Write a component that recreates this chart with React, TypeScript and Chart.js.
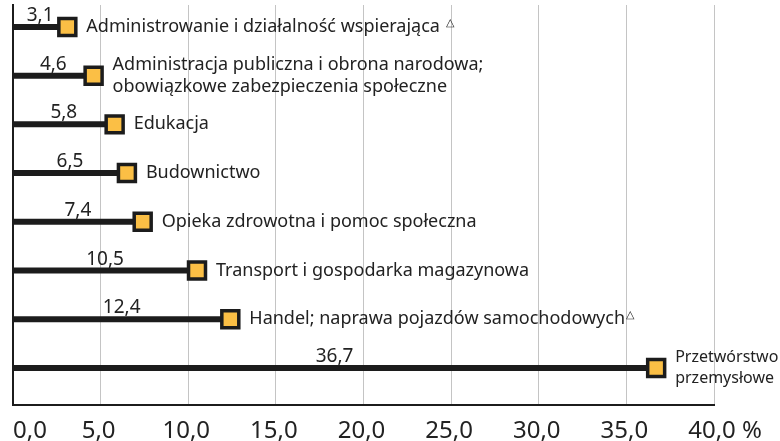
import React, { useEffect, useRef } from 'react';
import { Chart, registerables } from 'chart.js';

Chart.register(...registerables);

const categories: string[][] = [
  ['Administrowanie i działalność wspierająca'],
  ['Administracja publiczna i obrona narodowa;', 'obowiązkowe zabezpieczenia społeczne'],
  ['Edukacja'],
  ['Budownictwo'],
  ['Opieka zdrowotna i pomoc społeczna'],
  ['Transport i gospodarka magazynowa'],
  ['Handel; naprawa pojazdów samochodowych'],
  ['Przetwórstwo', 'przemysłowe'],
];
const footnoteMarks = [' △', '', '', '', '', '', '△', ''];
const values = [3.1, 4.6, 5.8, 6.5, 7.4, 10.5, 12.4, 36.7];
const xTicks = [0, 5, 10, 15, 20, 25, 30, 35, 40];
const xTickLabels = ['0,0', '5,0', '10,0', '15,0', '20,0', '25,0', '30,0', '35,0', '40,0'];
const unitLabel = ' %';

const FONT = '"Noto Sans", sans-serif';
const TEXT = '#222222';
const DARK = '#1c1c1c';
const FILL = '#fbbf45';

const fmt = (v: number) => v.toFixed(1).replace('.', ',');

const labelPlugin = {
  id: 'customLabels',
  afterDatasetsDraw(chart: any) {
    const { ctx, scales } = chart;
    const x = scales.x;
    const y = scales.y;
    ctx.save();
    ctx.fillStyle = TEXT;
    const x0 = x.getPixelForValue(0);
    values.forEach((v, i) => {
      const px = x.getPixelForValue(v);
      const py = y.getPixelForValue(i);
      ctx.font = `19px ${FONT}`;
      ctx.textAlign = 'center';
      ctx.textBaseline = 'alphabetic';
      ctx.fillText(fmt(v), (x0 + px) / 2, py - 6);

      const lines = categories[i];
      const lx = px + 19;
      let size = 18;
      ctx.font = `${size}px ${FONT}`;
      const maxW = Math.max(...lines.map((t) => ctx.measureText(t).width));
      const avail = chart.width - lx - 1;
      if (maxW > avail) {
        size = Math.floor((size * avail) / maxW * 2) / 2;
        ctx.font = `${size}px ${FONT}`;
      }
      ctx.textAlign = 'left';
      ctx.textBaseline = 'middle';
      const lh = 21.5;
      let lastW = 0;
      let lastY = py;
      lines.forEach((t, k) => {
        const ty = py + (k - (lines.length - 1) / 2) * lh;
        ctx.fillText(t, lx, ty);
        lastW = ctx.measureText(t).width;
        lastY = ty;
      });
      if (footnoteMarks[i]) {
        const mark = footnoteMarks[i];
        const lead = mark.startsWith(' ') ? 6 : 1;
        ctx.font = `11px ${FONT}`;
        ctx.textBaseline = 'alphabetic';
        ctx.fillText(mark.trim(), lx + lastW + lead, lastY - 1);
      }
    });

    ctx.font = `24px ${FONT}`;
    ctx.textBaseline = 'alphabetic';
    const ty = chart.height - 3;
    xTicks.forEach((t, k) => {
      const gx = x.getPixelForValue(t);
      const lbl = xTickLabels[k];
      if (k === 0) {
        ctx.textAlign = 'left';
        ctx.fillText(lbl, gx, ty);
      } else {
        ctx.textAlign = 'center';
        ctx.fillText(lbl, gx - 2, ty);
        if (k === xTicks.length - 1) {
          const w = ctx.measureText(lbl).width;
          ctx.textAlign = 'left';
          ctx.fillText(unitLabel, gx - 2 + w / 2, ty);
        }
      }
    });
    ctx.restore();
  },
};

export default function App() {
  const ref = useRef<HTMLCanvasElement | null>(null);
  useEffect(() => {
    if (!ref.current) return;
    const stems = values.map((v, i) => ({
      type: 'line' as const,
      data: [
        { x: 0, y: i },
        { x: v, y: i },
      ],
      borderColor: DARK,
      borderWidth: 6,
      pointRadius: 0,
      order: 2,
    }));
    const chart = new Chart(ref.current, {
      type: 'scatter',
      data: {
        datasets: [
          {
            type: 'scatter',
            data: values.map((v, i) => ({ x: v, y: i })),
            pointStyle: 'rect',
            pointRadius: 12,
            pointHoverRadius: 12,
            backgroundColor: FILL,
            borderColor: DARK,
            borderWidth: 3.5,
            order: 0,
          } as any,
          ...stems,
        ],
      },
      options: {
        animation: false,
        responsive: false,
        maintainAspectRatio: false,
        layout: { autoPadding: false, padding: { left: 13, right: 66, top: 5, bottom: 36 } },
        plugins: { legend: { display: false }, tooltip: { enabled: false } },
        events: [],
        scales: {
          x: {
            type: 'linear',
            min: 0,
            max: 40,
            afterBuildTicks: (s: any) => {
              s.ticks = xTicks.map((v) => ({ value: v }));
            },
            afterFit: (s: any) => {
              s.height = 0;
            },
            ticks: { display: false },
            grid: { color: '#c4c4c4', lineWidth: 1, drawTicks: false },
            border: { display: true, color: DARK, width: 2 },
          },
          y: {
            type: 'linear',
            reverse: true,
            min: -0.45,
            max: 7.76,
            afterFit: (s: any) => {
              s.width = 0;
            },
            ticks: { display: false },
            grid: { display: false, drawTicks: false },
            border: { display: true, color: DARK, width: 2 },
          },
        },
      },
      plugins: [labelPlugin],
    });
    return () => chart.destroy();
  }, []);
  return (
    <div style={{ position: 'absolute', left: 0, top: 0, width: 780, height: 441, background: '#fff' }}>
      <canvas ref={ref} width={780} height={441} />
    </div>
  );
}
